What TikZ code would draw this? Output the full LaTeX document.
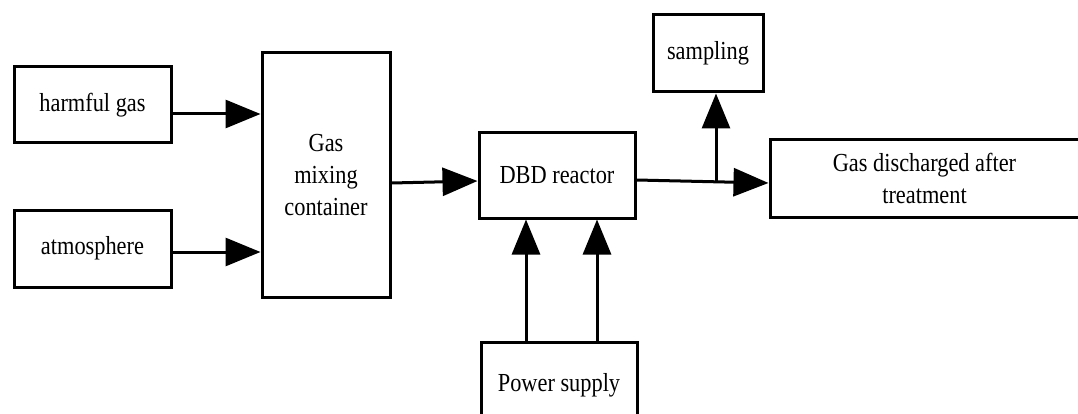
\documentclass[tikz,border=0pt]{standalone}
\usepackage{fontspec}
\setmainfont[FakeStretch=0.86]{Liberation Serif}
\usetikzlibrary{arrows.meta}
\begin{document}
\begin{tikzpicture}[x=1pt,y=-1pt,
  blk/.style={draw=black,line width=3pt,minimum width=#1,inner sep=0pt,align=center,
    font=\fontsize{26}{32}\selectfont},
  arr/.style={line width=3pt,-{Triangle[length=35pt,width=28pt]}},
  ln/.style={line width=3pt}]
\useasboundingbox (0,0) rectangle (1078,414);
\begin{scope}
\clip (0,0) rectangle (1078,414);
\node[blk=157pt,minimum height=76pt] (harm) at (92.5,105) {harmful gas};
\node[blk=157pt,minimum height=77pt] (atm) at (92.5,248.5) {atmosphere};
\node[blk=128pt,minimum height=244pt] (mix) at (326,175) {Gas\\mixing\\container};
\node[blk=156pt,minimum height=85pt] (dbd) at (557,175.5) {DBD reactor};
\node[blk=110pt,minimum height=77pt] (samp) at (708,53.5) {sampling};
\node[blk=315pt,minimum height=77pt] (out) at (927.5,178.5) {\hspace*{-6pt}Gas discharged after\\\hspace*{-6pt}treatment};
\node[blk=156pt,minimum height=86pt] (pow) at (559,385) {Power supply};
\end{scope}
\draw[arr] (harm.east |- 0,114) -- (mix.west |- 0,114);
\draw[arr] (atm.east |- 0,252) -- (mix.west |- 0,252);
\draw[arr] (mix.east |- 0,183) -- (dbd.west |- 0,181);
\coordinate (j) at (716,181.5);
\draw[arr] (dbd.east |- 0,180) -- (out.west |- 0,183);
\draw[arr] (j) -- (j |- samp.south);
\draw[arr] (pow.north -| 526,0) -- (dbd.south -| 526,0);
\draw[arr] (pow.north -| 597,0) -- (dbd.south -| 597,0);
\end{tikzpicture}
\end{document}
